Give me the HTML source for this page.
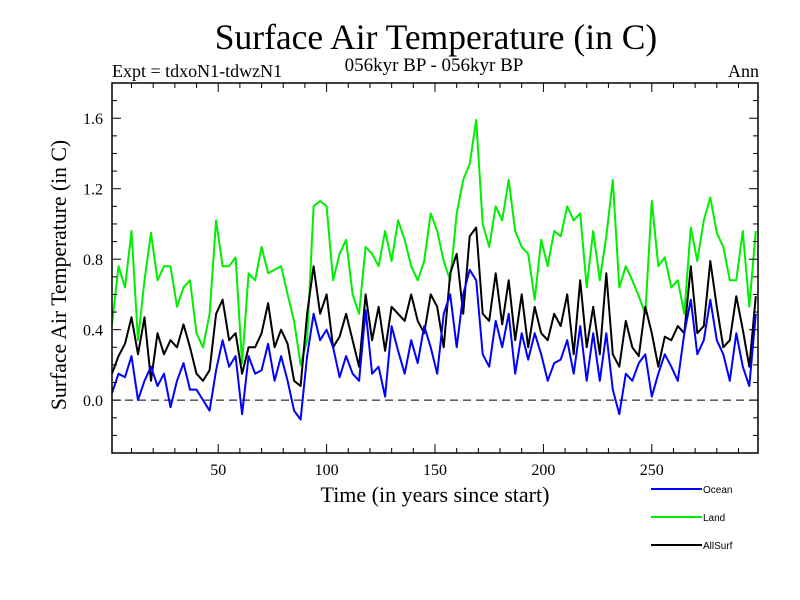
<!DOCTYPE html>
<html><head><meta charset="utf-8"><style>
body{margin:0;background:#fff;}
svg{display:block;}
</style></head><body>
<svg id="chart" width="800" height="600" xmlns="http://www.w3.org/2000/svg">
<rect width="800" height="600" fill="#fff"/>
<text x="436" y="49" text-anchor="middle" font-family="Liberation Serif, serif" font-size="35.5">Surface Air Temperature (in C)</text>
<text x="112" y="77" font-family="Liberation Serif, serif" font-size="18">Expt = tdxoN1-tdwzN1</text>
<text x="434" y="71" text-anchor="middle" font-family="Liberation Serif, serif" font-size="19">056kyr BP - 056kyr BP</text>
<text x="759" y="77" text-anchor="end" font-family="Liberation Serif, serif" font-size="18">Ann</text>
<text transform="translate(66,275) rotate(-90)" text-anchor="middle" font-family="Liberation Serif, serif" font-size="21.7">Surface Air Temperature (in C)</text>
<text x="435" y="502" text-anchor="middle" font-family="Liberation Serif, serif" font-size="22">Time (in years since start)</text>
<g id="plot"></g>
<g id="axes"></g>
<g id="legend"></g>
</svg>
<script>
const years = [1,4,7,10,13,16,19,22,25,28,31,34,37,40,43,46,49,52,55,58,61,64,67,70,73,76,79,82,85,88,91,94,97,100,103,106,109,112,115,118,121,124,127,130,133,136,139,142,145,148,151,154,157,160,163,166,169,172,175,178,181,184,187,190,193,196,199,202,205,208,211,214,217,220,223,226,229,232,235,238,241,244,247,250,253,256,259,262,265,268,271,274,277,280,283,286,289,292,295,298];
const landValues = [0.43,0.76,0.64,0.96,0.34,0.68,0.95,0.68,0.76,0.76,0.53,0.64,0.68,0.38,0.30,0.49,1.02,0.76,0.76,0.81,0.21,0.72,0.68,0.87,0.72,0.74,0.76,0.60,0.45,0.20,0.34,1.10,1.13,1.10,0.68,0.83,0.91,0.60,0.49,0.87,0.83,0.76,0.96,0.79,1.02,0.91,0.76,0.68,0.79,1.06,0.96,0.79,0.68,1.06,1.25,1.34,1.59,1.00,0.87,1.10,1.02,1.25,0.96,0.87,0.83,0.57,0.91,0.76,0.96,0.93,1.10,1.02,1.06,0.64,0.96,0.68,0.93,1.25,0.64,0.76,0.68,0.59,0.49,1.13,0.76,0.81,0.64,0.68,0.49,0.98,0.79,1.02,1.15,0.95,0.87,0.68,0.68,0.96,0.53,0.96];
const allSurfValues = [0.15,0.25,0.32,0.47,0.26,0.47,0.11,0.38,0.26,0.34,0.30,0.43,0.30,0.15,0.11,0.17,0.49,0.57,0.34,0.38,0.15,0.30,0.30,0.38,0.55,0.30,0.40,0.32,0.11,0.08,0.49,0.76,0.49,0.60,0.30,0.36,0.49,0.34,0.19,0.60,0.34,0.53,0.28,0.53,0.49,0.45,0.60,0.45,0.38,0.60,0.53,0.30,0.72,0.83,0.49,0.93,0.98,0.49,0.45,0.72,0.43,0.68,0.34,0.60,0.30,0.53,0.38,0.34,0.49,0.42,0.60,0.26,0.68,0.30,0.53,0.26,0.72,0.26,0.19,0.45,0.30,0.25,0.53,0.38,0.19,0.36,0.34,0.42,0.38,0.76,0.38,0.42,0.79,0.53,0.30,0.34,0.59,0.40,0.19,0.59];
const oceanValues = [0.04,0.15,0.13,0.25,0.00,0.11,0.19,0.08,0.15,-0.04,0.11,0.21,0.06,0.06,0.00,-0.06,0.17,0.34,0.19,0.25,-0.08,0.25,0.15,0.17,0.32,0.11,0.25,0.11,-0.06,-0.11,0.25,0.49,0.34,0.40,0.30,0.13,0.25,0.15,0.11,0.51,0.15,0.19,0.02,0.42,0.28,0.15,0.34,0.21,0.42,0.30,0.15,0.49,0.60,0.30,0.60,0.74,0.68,0.26,0.19,0.45,0.30,0.49,0.15,0.38,0.23,0.38,0.26,0.11,0.21,0.23,0.34,0.15,0.42,0.11,0.38,0.11,0.38,0.06,-0.08,0.15,0.11,0.21,0.26,0.02,0.15,0.26,0.19,0.11,0.38,0.57,0.26,0.34,0.57,0.34,0.26,0.11,0.38,0.19,0.08,0.49];
const yTickValues = [0.0,0.4,0.8,1.2,1.6];
const yTickLabels = ["0.0","0.4","0.8","1.2","1.6"];
const xTickValues = [50,100,150,200,250];
const xTickLabels = ["50","100","150","200","250"];

const NS = "http://www.w3.org/2000/svg";
const L = 112, R = 758, T = 83, B = 453;
const xMin = 1, xMax = 299, yMin = -0.3, yMax = 1.8;
function xs(v){ return L + (v - xMin) / (xMax - xMin) * (R - L); }
function ys(v){ return B - (v - yMin) / (yMax - yMin) * (B - T); }
function mk(tag, attrs, parent){ const e = document.createElementNS(NS, tag); for (const k in attrs) e.setAttribute(k, attrs[k]); parent.appendChild(e); return e; }

const plot = document.getElementById('plot');
const axes = document.getElementById('axes');
const legend = document.getElementById('legend');

const zero = mk('line', {x1:L, x2:R, y1:ys(0), y2:ys(0), stroke:'#000', 'stroke-width':1, 'stroke-dasharray':'8,5'}, plot);



const series = [
  {vals: landValues, color: '#00ee00', name: 'land-line'},
  {vals: allSurfValues, color: '#000000', name: 'allsurf-line'},
  {vals: oceanValues, color: '#0000ff', name: 'ocean-line'}
];
series.forEach(s => {
  const pts = years.map((yr, i) => xs(yr).toFixed(1) + ',' + ys(s.vals[i]).toFixed(1)).join(' ');
  const p = mk('polyline', {points: pts, fill: 'none', stroke: s.color, 'stroke-width': 2, 'stroke-linejoin': 'round'}, plot);
  
  
});

const frame = mk('rect', {x:L, y:T, width:R-L, height:B-T, fill:'none', stroke:'#000', 'stroke-width':1.5}, axes);



for (let v = -0.2; v <= 1.75; v += 0.1) {
  const vv = Math.round(v * 10) / 10;
  const major = Math.abs(vv * 10 % 4) < 1e-6;
  const len = major ? 9 : 5;
  const y = ys(vv);
  mk('line', {x1:L, x2:L+len, y1:y, y2:y, stroke:'#000', 'stroke-width':1}, axes);
  mk('line', {x1:R-len, x2:R, y1:y, y2:y, stroke:'#000', 'stroke-width':1}, axes);
}
yTickValues.forEach((v, i) => {
  const t = mk('text', {x:L-9, y:ys(v)+6, 'text-anchor':'end', 'font-family':'Liberation Serif, serif', 'font-size':16}, axes);
  t.textContent = yTickLabels[i];
  
  
});
for (let v = 10; v < 299; v += 10) {
  const major = v % 50 === 0;
  const len = major ? 9 : 5;
  const x = xs(v);
  mk('line', {x1:x, x2:x, y1:B, y2:B-len, stroke:'#000', 'stroke-width':1}, axes);
  mk('line', {x1:x, x2:x, y1:T, y2:T+len, stroke:'#000', 'stroke-width':1}, axes);
}
xTickValues.forEach((v, i) => {
  const t = mk('text', {x:xs(v), y:475, 'text-anchor':'middle', 'font-family':'Liberation Serif, serif', 'font-size':16}, axes);
  t.textContent = xTickLabels[i];
  
  
});

const legendItems = [
  {label:'Ocean', color:'#0000ff', y:489},
  {label:'Land', color:'#00ee00', y:517},
  {label:'AllSurf', color:'#000000', y:545}
];
legendItems.forEach(it => {
  const g = mk('g', {}, legend);
  
  
  mk('line', {x1:651, x2:702, y1:it.y, y2:it.y, stroke:it.color, 'stroke-width':2}, g);
  const t = mk('text', {x:703, y:it.y+4, 'font-family':'Liberation Sans, sans-serif', 'font-size':10}, g);
  t.textContent = it.label;
});
</script>
</body></html>
